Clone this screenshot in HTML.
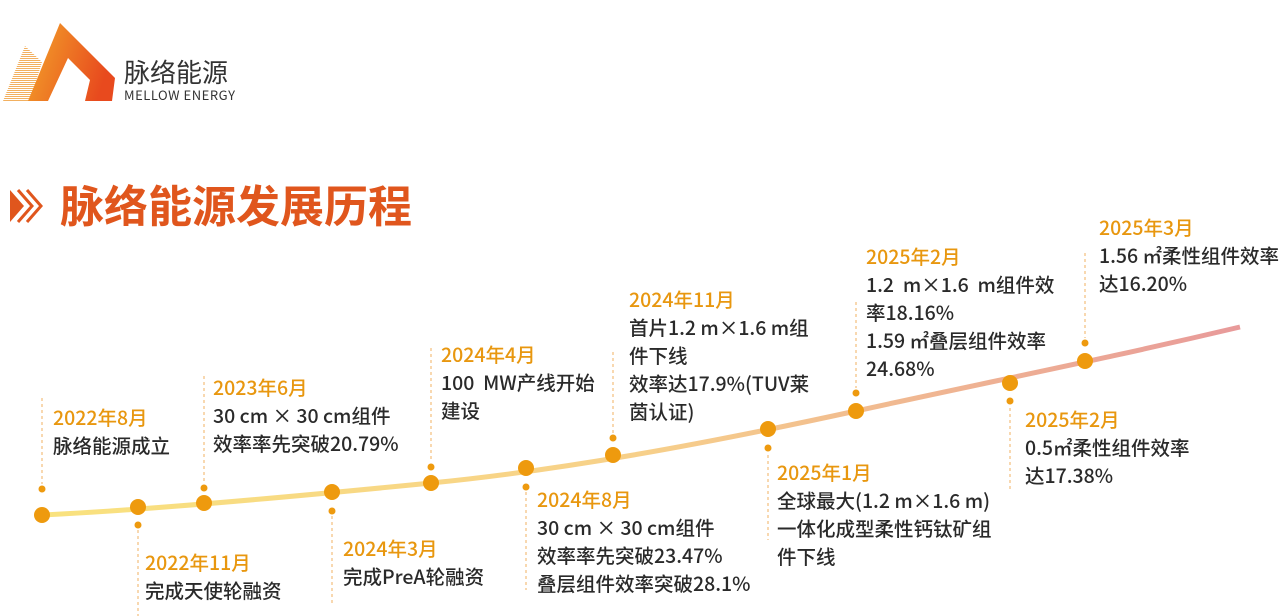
<!DOCTYPE html>
<html><head><meta charset="utf-8"><style>
html,body{margin:0;padding:0;background:#fff;width:1280px;height:616px;overflow:hidden;position:relative;font-family:"Liberation Sans","Noto Sans CJK SC",sans-serif}
.b{position:absolute;font-size:19.5px;font-weight:500;line-height:28px;color:#2a2a2a;white-space:nowrap;font-family:"Noto Sans CJK SC",sans-serif}
.b .d{color:#e8970f}
</style></head><body>
<svg width="1280" height="616" style="position:absolute;left:0;top:0">
<defs>
<linearGradient id="g" x1="0" x2="1" y1="0" y2="0"><stop offset="0" stop-color="#f9e27e"/><stop offset="0.5" stop-color="#f7d08a"/><stop offset="1" stop-color="#e89a9a"/></linearGradient>
<linearGradient id="lg" x1="0" x2="1" y1="0" y2="0.3"><stop offset="0" stop-color="#f3a52a"/><stop offset="1" stop-color="#e84a1e"/></linearGradient>
<pattern id="h" width="2" height="2" patternUnits="userSpaceOnUse"><rect width="2" height="1" fill="#f2b060"/></pattern>
</defs>
<polygon points="3,101 25,46 42,62 30,101" fill="url(#h)"/>
<polygon points="28,101 60,23 115,78 112,101 85,101 90,80 68,58 48,101" fill="url(#lg)"/>
<text x="124" y="82" font-size="26" fill="#333" font-family="Noto Sans CJK SC,sans-serif">脉络能源</text>
<text x="124" y="100" font-size="13" fill="#333" font-family="Noto Sans CJK SC,sans-serif" textLength="111">MELLOW ENERGY</text>
<polygon points="10,190 24,206 10,222 10,190" fill="#e0561d"/>
<polyline points="18,190 32,206 18,222" fill="none" stroke="#e0561d" stroke-width="3"/>
<polyline points="27,190 41,206 27,222" fill="none" stroke="#e0561d" stroke-width="3"/>
<text x="60" y="222" font-size="44" font-weight="bold" fill="#e0561d" font-family="Liberation Sans,Noto Sans CJK SC,sans-serif">脉络能源发展历程</text>
<path d="M42,515 C150,510 300,496 431,483 S700,445 856,411 S1100,360 1240,327" fill="none" stroke="url(#g)" stroke-width="5"/>
<g stroke="#f0b060" stroke-width="1" stroke-dasharray="3,3" fill="none">
<line x1="42" y1="398" x2="42" y2="484"/>
<line x1="138" y1="530" x2="138" y2="616"/>
<line x1="204" y1="376" x2="204" y2="483"/>
<line x1="332" y1="516" x2="332" y2="605"/>
<line x1="431" y1="348" x2="431" y2="462"/>
<line x1="526" y1="492" x2="526" y2="590"/>
<line x1="613" y1="352" x2="613" y2="433"/>
<line x1="768" y1="455" x2="768" y2="540"/>
<line x1="856" y1="302" x2="856" y2="388"/>
<line x1="1010" y1="408" x2="1010" y2="490"/>
<line x1="1085" y1="253" x2="1085" y2="338"/>
</g>
<g fill="#ee9a0e">
<circle cx="42" cy="515" r="8"/><circle cx="42" cy="489" r="3.5"/>
<circle cx="138" cy="507" r="8"/><circle cx="138" cy="525" r="3.5"/>
<circle cx="204" cy="503" r="8"/><circle cx="204" cy="488" r="3.5"/>
<circle cx="332" cy="492" r="8"/><circle cx="332" cy="511" r="3.5"/>
<circle cx="431" cy="483" r="8"/><circle cx="431" cy="467" r="3.5"/>
<circle cx="526" cy="468" r="8"/><circle cx="526" cy="487" r="3.5"/>
<circle cx="613" cy="455" r="8"/><circle cx="613" cy="438" r="3.5"/>
<circle cx="768" cy="429" r="8"/><circle cx="768" cy="448" r="3.5"/>
<circle cx="856" cy="411" r="8"/><circle cx="856" cy="393" r="3.5"/>
<circle cx="1010" cy="383" r="8"/><circle cx="1010" cy="401" r="3.5"/>
<circle cx="1085" cy="361" r="8"/><circle cx="1085" cy="343" r="3.5"/>
</g>
</svg>
<div class="b" style="left:53px;top:403px"><div class="d">2022年8月</div>脉络能源成立</div>
<div class="b" style="left:145px;top:548px"><div class="d">2022年11月</div>完成天使轮融资</div>
<div class="b" style="left:213px;top:373px"><div class="d">2023年6月</div>30 cm × 30 cm组件<br>效率率先突破20.79%</div>
<div class="b" style="left:343px;top:534px"><div class="d">2024年3月</div>完成PreA轮融资</div>
<div class="b" style="left:441px;top:340px"><div class="d">2024年4月</div>100&nbsp; MW产线开始<br>建设</div>
<div class="b" style="left:537px;top:485px"><div class="d">2024年8月</div>30 cm × 30 cm组件<br>效率率先突破23.47%<br>叠层组件效率突破28.1%</div>
<div class="b" style="left:629px;top:285px"><div class="d">2024年11月</div>首片1.2 m×1.6 m组<br>件下线<br>效率达17.9%(TUV莱<br>茵认证)</div>
<div class="b" style="left:777px;top:458px"><div class="d">2025年1月</div>全球最大(1.2 m×1.6 m)<br>一体化成型柔性钙钛矿组<br>件下线</div>
<div class="b" style="left:866px;top:242px"><div class="d">2025年2月</div>1.2&nbsp; m×1.6&nbsp; m组件效<br>率18.16%<br>1.59 ㎡叠层组件效率<br>24.68%</div>
<div class="b" style="left:1025px;top:405px"><div class="d">2025年2月</div>0.5㎡柔性组件效率<br>达17.38%</div>
<div class="b" style="left:1099px;top:213px"><div class="d">2025年3月</div>1.56 ㎡柔性组件效率<br>达16.20%</div>
</body></html>
